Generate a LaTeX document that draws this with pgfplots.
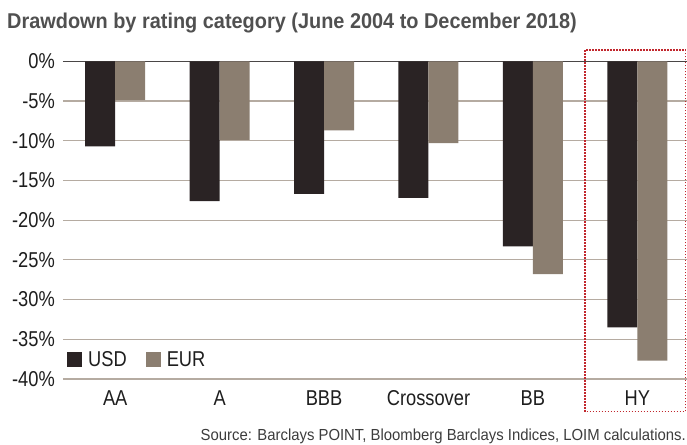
\documentclass[border=0pt]{standalone}
\usepackage{pgfplots}
\pgfplotsset{compat=1.18}
\usepackage{fontspec}
\setmainfont{Liberation Sans}[FakeStretch=0.93]
\newfontfamily\condensed{Liberation Sans}[FakeStretch=0.85]
\definecolor{usd}{HTML}{2A2324}
\definecolor{eur}{HTML}{8B7E70}
\definecolor{gridc}{HTML}{B5ABA1}
\definecolor{zeroc}{HTML}{4A4646}
\definecolor{boxred}{HTML}{C1272D}
\definecolor{titlec}{HTML}{505050}
\definecolor{srcc}{HTML}{3C3C3C}
\definecolor{tickc}{HTML}{1E1E1E}
\begin{document}
\begin{tikzpicture}
\begin{axis}[
  scale only axis, width=624pt, height=317.7pt,
  ybar=0pt, bar width=30pt,
  xmin=-0.5, xmax=5.476, ymin=-40, ymax=0,
  xtick={0,1,2,3,4,5}, xticklabels={AA,A,BBB,Crossover,BB,HY},
  ytick={-40,-35,-30,-25,-20,-15,-10,-5},
  yticklabels={-40\%,-35\%,-30\%,-25\%,-20\%,-15\%,-10\%,-5\%},
  extra y ticks={0}, extra y tick labels={0\%},
  extra y tick style={grid style={draw=zeroc, line width=1.3pt}},
  ymajorgrids, grid style={draw=gridc, line width=1.1pt},
  axis line style={draw=none},
  major tick length=0pt, tick style={draw=none},
  ticklabel style={font=\condensed\fontsize{21.5}{25}\selectfont, text=tickc},
  xticklabel style={anchor=base, inner sep=0pt, yshift=-27pt},
  yticklabel style={anchor=east, inner sep=0pt, xshift=-8pt},
  clip=false,
  legend style={at={(0,0)}, anchor=south west, xshift=4pt, yshift=8pt,
    draw=none, fill=none, inner sep=0pt,
    font=\condensed\fontsize{21.5}{25}\selectfont, text=tickc,
    nodes={inner sep=3pt},
    /tikz/every even column/.append style={column sep=16pt}},
  legend columns=2,
  legend image code/.code={\fill[#1] (0pt,-7.5pt) rectangle (15pt,7.5pt); \path (18pt,0pt);},
]
\addplot[fill=usd, draw=none] coordinates {(0,-10.7) (1,-17.6) (2,-16.7) (3,-17.2) (4,-23.3) (5,-33.5)};
\addplot[fill=eur, draw=none] coordinates {(0,-4.9) (1,-9.9) (2,-8.7) (3,-10.3) (4,-26.8) (5,-37.7)};
\legend{USD,EUR}
\draw[boxred, line width=1.5pt, dash pattern=on 1.5pt off 1.5pt] (axis cs:4.5,1.4) rectangle (axis cs:5.462,-44.1);
\coordinate (bl) at (rel axis cs:0,0);
\coordinate (tr) at (rel axis cs:1,1);
\coordinate (tl) at (rel axis cs:0,1);
\coordinate (br) at (rel axis cs:1,0);
\end{axis}
\node[anchor=base west, font=\bfseries\fontsize{21.4}{25}\selectfont, text=titlec, inner sep=0pt] at ([shift={(-56pt,33pt)}]tl) {Drawdown by rating category (June 2004 to December 2018)};
\node[anchor=base east, font=\fontsize{16}{19}\selectfont, text=srcc, inner sep=0pt] at ([shift={(-1pt,-61.5pt)}]br) {Source: Barclays POINT, Bloomberg Barclays Indices, LOIM calculations.};
\pgfresetboundingbox
\path ([shift={(-63pt,-66pt)}]bl) rectangle ([shift={(0pt,61.3pt)}]tr);
\end{tikzpicture}
\end{document}
